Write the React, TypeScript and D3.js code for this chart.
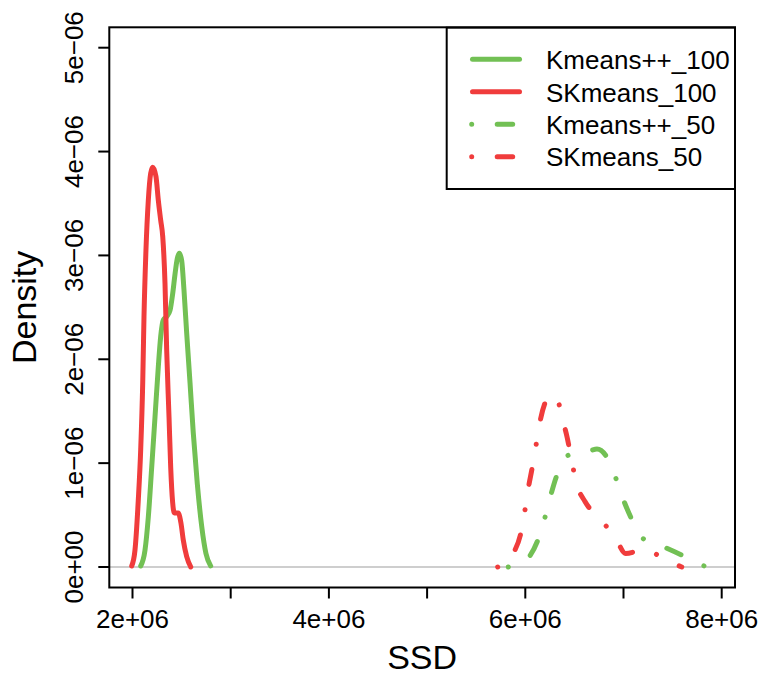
import React from 'react';
import * as d3 from 'd3';

// ---- data ----
const kmeans100SSD = [2.0835e6, 2.127e6, 2.161e6, 2.1955e6, 2.229e6, 2.263e6, 2.287e6, 2.314e6, 2.348e6, 2.382e6, 2.409e6, 2.433e6, 2.456e6, 2.477e6, 2.501e6, 2.524e6, 2.552e6, 2.586e6, 2.619e6, 2.66e6, 2.705e6, 2.748e6, 2.796e6];
const kmeans100Density = [0.01, 0.16, 0.48, 0.96, 1.44, 1.93, 2.22, 2.38, 2.41, 2.47, 2.63, 2.82, 2.97, 3.02, 2.95, 2.67, 2.25, 1.77, 1.29, 0.8, 0.39, 0.13, 0.01];

const skmeans100SSD = [1.992e6, 2.025e6, 2.059e6, 2.0835e6, 2.104e6, 2.117e6, 2.137e6, 2.161e6, 2.185e6, 2.206e6, 2.239e6, 2.263e6, 2.287e6, 2.308e6, 2.331e6, 2.348e6, 2.372e6, 2.389e6, 2.409e6, 2.426e6, 2.466e6, 2.494e6, 2.517e6, 2.552e6, 2.593e6];
const skmeans100Density = [0.01, 0.16, 0.645, 1.13, 1.77, 2.41, 3.05, 3.53, 3.79, 3.85, 3.76, 3.53, 3.34, 3.18, 2.73, 2.09, 1.44, 0.96, 0.62, 0.52, 0.52, 0.42, 0.26, 0.1, 0.0];

const kmeans50SSD = [5.827e6, 5.946e6, 6.041e6, 6.132e6, 6.201e6, 6.259e6, 6.32e6, 6.428e6, 6.557e6, 6.659e6, 6.73e6, 6.829e6, 6.924e6, 6.998e6, 7.084e6, 7.191e6, 7.405e6, 7.593e6, 7.802e6, 7.84e6];
const kmeans50Density = [0.0, 0.04, 0.1, 0.27, 0.48, 0.69, 0.88, 1.07, 1.11, 1.12, 1.136, 1.06, 0.85, 0.65, 0.46, 0.28, 0.195, 0.115, 0.02, 0.0];

const skmeans50SSD = [5.719e6, 5.793e6, 5.888e6, 5.953e6, 5.997e6, 6.031e6, 6.071e6, 6.109e6, 6.15e6, 6.201e6, 6.252e6, 6.313e6, 6.381e6, 6.428e6, 6.473e6, 6.523e6, 6.608e6, 6.761e6, 6.913e6, 7.022e6, 7.219e6, 7.423e6, 7.593e6];
const skmeans50Density = [0.0, 0.04, 0.15, 0.32, 0.55, 0.76, 0.96, 1.17, 1.4, 1.58, 1.65, 1.64, 1.415, 1.24, 1.02, 0.8, 0.63, 0.46, 0.29, 0.13, 0.17, 0.07, 0.0];

const seriesNames = ['Kmeans++_100', 'SKmeans_100', 'Kmeans++_50', 'SKmeans_50'];

const xTicks = [2e6, 3e6, 4e6, 5e6, 6e6, 7e6, 8e6];
const xTickLabels = ['2e+06', '', '4e+06', '', '6e+06', '', '8e+06'];
const yTicks = [0, 1e-6, 2e-6, 3e-6, 4e-6, 5e-6];
const yTickLabels = ['0e+00', '1e\u221206', '2e\u221206', '3e\u221206', '4e\u221206', '5e\u221206'];

const xTitle = 'SSD';
const yTitle = 'Density';

// ---- styles ----
const GREEN = '#72C054';
const RED = '#F03C3C';
const DOTDASH = '0.01 25.5 15.5 25.5';
const LW = 5;
const FONT = '"Liberation Sans", Arial, Helvetica, sans-serif';

export default function App() {
  const W = 766, H = 679;
  const box = { left: 109.3, right: 735, top: 27.3, bottom: 587.5 };
  const x = d3.scaleLinear().domain([2e6, 8e6]).range([132.5, 721.7]);
  const y = d3.scaleLinear().domain([0, 5e-6]).range([567, 47.7]);

  const mk = (xs: number[], ds: number[]) => xs.map((v, i) => [v, ds[i] * 1e-6] as [number, number]);
  const line = d3.line<[number, number]>().x(d => x(d[0])).y(d => y(d[1])).curve(d3.curveMonotoneX);

  const series = [
    { name: seriesNames[0], pts: mk(kmeans100SSD, kmeans100Density), color: GREEN, dash: undefined as string | undefined },
    { name: seriesNames[1], pts: mk(skmeans100SSD, skmeans100Density), color: RED, dash: undefined as string | undefined },
    { name: seriesNames[2], pts: mk(kmeans50SSD, kmeans50Density), color: GREEN, dash: DOTDASH },
    { name: seriesNames[3], pts: mk(skmeans50SSD, skmeans50Density), color: RED, dash: DOTDASH },
  ];

  const tickFont = 26;
  const titleFont = 34;
  const legend = { left: 446.7, top: 27.7, right: 735, bottom: 189, rowY0: 59.3, rowStep: 32.45 };

  return (
    <svg width={W} height={H} viewBox={`0 0 ${W} ${H}`} style={{ position: 'absolute', left: 0, top: 0, background: '#fff' }}>
      <rect x={0} y={0} width={W} height={H} fill="#fff" />
      <defs>
        <clipPath id="plotclip">
          <rect x={box.left} y={box.top} width={box.right - box.left} height={box.bottom - box.top} />
        </clipPath>
      </defs>
      {/* zero line */}
      <line x1={box.left} x2={box.right} y1={y(0)} y2={y(0)} stroke="#BEBEBE" strokeWidth={1.6} />
      {/* density curves */}
      <g clipPath="url(#plotclip)">
        {series.map(s => (
          <path key={s.name} d={line(s.pts) || ''} fill="none" stroke={s.color} strokeWidth={LW}
            strokeLinecap="round" strokeLinejoin="round" strokeDasharray={s.dash} />
        ))}
      </g>
      {/* box */}
      <rect x={box.left} y={box.top} width={box.right - box.left} height={box.bottom - box.top} fill="none" stroke="#000" strokeWidth={2} />
      {/* x axis */}
      {xTicks.map((t, i) => (
        <g key={'xt' + i}>
          <line x1={x(t)} x2={x(t)} y1={box.bottom} y2={box.bottom + 11} stroke="#000" strokeWidth={2} />
          {xTickLabels[i] && (
            <text x={x(t)} y={627.5} textAnchor="middle" fontFamily={FONT} fontSize={tickFont}>{xTickLabels[i]}</text>
          )}
        </g>
      ))}
      {/* y axis */}
      {yTicks.map((t, i) => (
        <g key={'yt' + i}>
          <line x1={box.left - 11} x2={box.left} y1={y(t)} y2={y(t)} stroke="#000" strokeWidth={2} />
          <text transform={`translate(83,${y(t)}) rotate(-90)`} textAnchor="middle" fontFamily={FONT} fontSize={tickFont}>{yTickLabels[i]}</text>
        </g>
      ))}
      {/* axis titles */}
      <text x={(box.left + box.right) / 2} y={669} textAnchor="middle" fontFamily={FONT} fontSize={titleFont}>{xTitle}</text>
      <text transform={`translate(36,${(box.top + box.bottom) / 2}) rotate(-90)`} textAnchor="middle" fontFamily={FONT} fontSize={titleFont}>{yTitle}</text>
      {/* legend */}
      <rect x={legend.left} y={legend.top} width={legend.right - legend.left} height={legend.bottom - legend.top} fill="#fff" stroke="#000" strokeWidth={2} />
      {series.map((s, i) => {
        const ry = legend.rowY0 + i * legend.rowStep;
        return (
          <g key={'lg' + i}>
            <line x1={s.dash ? 471.7 : 472.5} x2={519.5} y1={ry} y2={ry} stroke={s.color} strokeWidth={LW}
              strokeLinecap="round" strokeDasharray={s.dash} />
            <text x={546} y={ry + 9.8} fontFamily={FONT} fontSize={tickFont}>{s.name}</text>
          </g>
        );
      })}
    </svg>
  );
}
